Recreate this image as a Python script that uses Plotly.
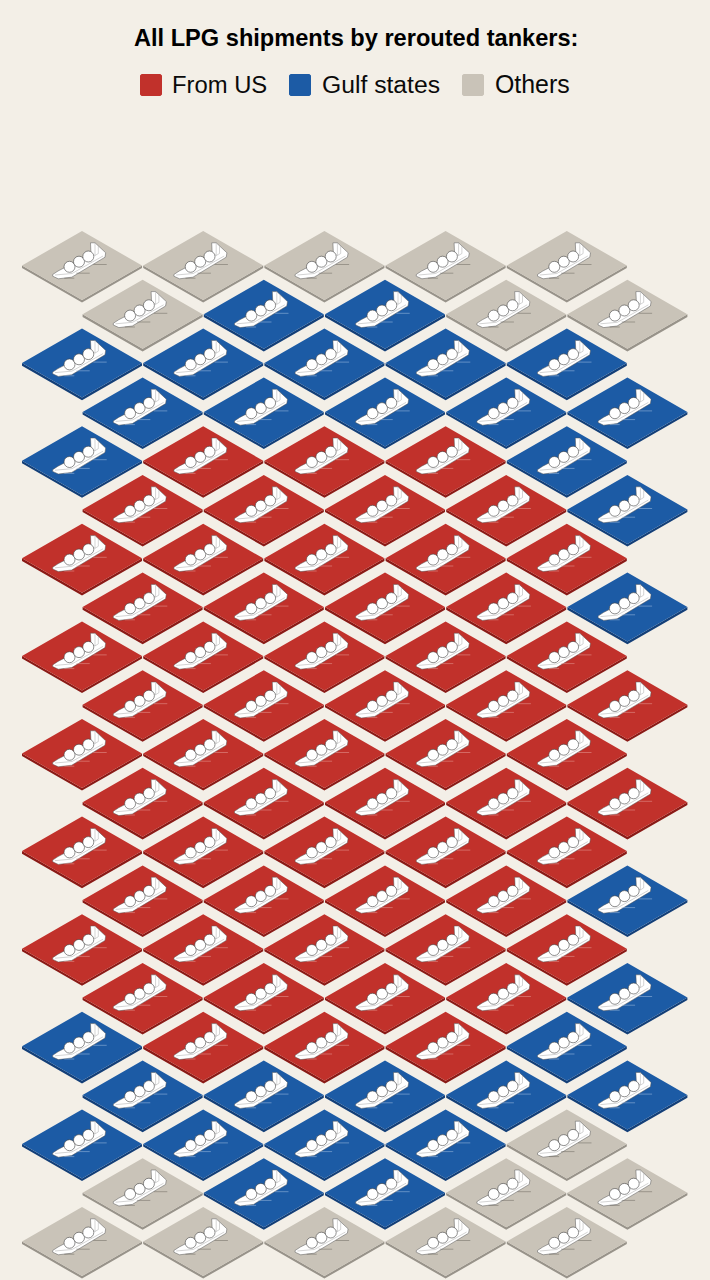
import plotly.graph_objects as go

# ---- data -------------------------------------------------------------
title = "All LPG shipments by rerouted tankers:"
categories = ["From US", "Gulf states", "Others"]
cat_codes = ["U", "G", "O"]
row_tiles = [
    "OOOOO", "OGGOO", "GGGGG", "GGGGG", "GUUUG", "UUUUG", "UUUUU",
    "UUUUG", "UUUUU", "UUUUU", "UUUUU", "UUUUU", "UUUUU", "UUUUG",
    "UUUUU", "UUUUG", "GUUUG", "GGGGG", "GGGGO", "OGGOO", "OOOOO",
]

# ---- styles -----------------------------------------------------------
W, H = 710, 1280
BG = "#f3efe7"
TOP = {"U": "#c1312b", "G": "#1c5ba5", "O": "#c9c3b8"}
SIDE = {"U": "#8a1a16", "G": "#133f78", "O": "#98938a"}
TINY = {"U": "#e9a29c", "G": "#a9c4e4", "O": "#6a665f"}
COL_PX, ROW_PX = 121.2, 48.8
X0_PX, Y0_PX = 82.0, 265.5
HALF_W, HALF_H, DEPTH = 60.0, 34.5, 2.6
FONT = "Liberation Sans"


def sx(px):
    return (px - X0_PX) / COL_PX


def sy(py):
    return (py - Y0_PX) / ROW_PX


# unit outlines, as offsets from a tile centre in pixels
TILE = [(-HALF_W, 0), (0, -HALF_H), (HALF_W, 0), (0, HALF_H)]
SIDE_OUT = [(-HALF_W, 0), (0, HALF_H), (HALF_W, 0), (HALF_W, DEPTH), (0, HALF_H + DEPTH), (-HALF_W, DEPTH)]
HULL = [(-29.3, 9), (-24, 5.5), (9, -11.5), (8.5, -22.7), (13, -22.7), (16.3, -19.3), (23.7, -12.7),
        (23, -8.3), (-10.3, 11.7), (-23.7, 13.3), (-29.3, 10.7)]
DECK = [(-27, 9.5), (-10, 8), (21, -9.5)]
BRIDGE = [(9, -12), (13, -10), (13, -22.7)]
BRIDGE2 = [(13, -10), (16.3, -12), (16.3, -19.3)]
SPHERES = [(-12.5, 1.3), (-3, -3.8), (6.3, -9)]
TINY_MARKS = [[(11.3, -1), (24.7, -1)], [(-5.7, 7.7), (7.7, 7.7)], [(-17.7, 12.7), (-7.7, 12.7)]]
SW, SC = 11.0, 1.6
SWATCH = [(-SW + SC, -SW), (SW - SC, -SW), (SW, -SW + SC), (SW, SW - SC),
          (SW - SC, SW), (-SW + SC, SW), (-SW, SW - SC), (-SW, -SW + SC)]


def outline(cells, pts, close=True):
    xs, ys = [], []
    for cx, cy in cells:
        seq = pts + pts[:1] if close else pts
        for dx, dy in seq:
            xs.append(cx + dx / COL_PX)
            ys.append(cy + dy / ROW_PX)
        xs.append(None)
        ys.append(None)
    return xs, ys


cells = {c: [] for c in cat_codes}
for r, row in enumerate(row_tiles):
    for c, code in enumerate(row):
        cells[code].append((c + (r % 2) * 0.5, r))
all_cells = [p for c in cat_codes for p in cells[c]]

fig = go.Figure()
for code, name in zip(cat_codes, categories):
    xs, ys = outline(cells[code], SIDE_OUT)
    fig.add_trace(go.Scatter(x=xs, y=ys, mode="lines", fill="toself", fillcolor=SIDE[code],
                             line=dict(width=0), hoverinfo="skip", showlegend=False))
    xs, ys = outline(cells[code], TILE)
    fig.add_trace(go.Scatter(x=xs, y=ys, mode="lines", fill="toself", fillcolor=TOP[code],
                             line=dict(width=0), name=name, hoverinfo="name", showlegend=False))

xs, ys = outline(all_cells, HULL)
fig.add_trace(go.Scatter(x=xs, y=ys, mode="lines", fill="toself", fillcolor="#ffffff",
                         line=dict(width=0.5, color="#555555"), hoverinfo="skip", showlegend=False))
for part in (DECK, BRIDGE, BRIDGE2):
    xs, ys = outline(all_cells, part, close=False)
    fig.add_trace(go.Scatter(x=xs, y=ys, mode="lines", line=dict(width=0.5, color="#a8a8a8"),
                             hoverinfo="skip", showlegend=False))
sph_x = [cx + dx / COL_PX for cx, cy in all_cells for dx, dy in SPHERES]
sph_y = [cy + dy / ROW_PX for cx, cy in all_cells for dx, dy in SPHERES]
fig.add_trace(go.Scatter(x=sph_x, y=sph_y, mode="markers",
                         marker=dict(size=11, color="#ffffff", line=dict(width=0.6, color="#444444")),
                         hoverinfo="skip", showlegend=False))
for code in cat_codes:
    xs, ys = [], []
    for seg in TINY_MARKS:
        a, b = outline(cells[code], seg, close=False)
        xs += a
        ys += b
    fig.add_trace(go.Scatter(x=xs, y=ys, mode="lines", line=dict(width=0.5, color=TINY[code]),
                             hoverinfo="skip", showlegend=False))

# legend
SWATCH_PX = [151, 300, 473]
LABEL_PX = [170, 320, 493]
LABEL_SIZE = [23.8, 24.7, 24.9]
LEGEND_Y = 85.0
for px, code in zip(SWATCH_PX, cat_codes):
    xs, ys = outline([(sx(px), sy(LEGEND_Y))], SWATCH)
    fig.add_trace(go.Scatter(x=xs, y=ys, mode="lines", fill="toself", fillcolor=TOP[code],
                             line=dict(width=0), hoverinfo="skip", showlegend=False))
for name, lx, sz in zip(categories, LABEL_PX, LABEL_SIZE):
    fig.add_annotation(x=sx(lx), y=sy(LEGEND_Y - 1), text=name, showarrow=False, xanchor="left", yanchor="middle",
                       font=dict(family=FONT, size=sz, color="#0a0a0a"))
fig.add_annotation(x=sx(355.5), y=sy(38), text=f"<b>{title}</b>", showarrow=False, xanchor="center",
                   yanchor="middle", font=dict(family=FONT, size=23.6, color="#000000"))

fig.update_layout(
    width=W, height=H, margin=dict(l=0, r=0, t=0, b=0), autosize=False,
    paper_bgcolor=BG, plot_bgcolor=BG, showlegend=False,
    xaxis=dict(range=[sx(0), sx(W)], visible=False, fixedrange=True),
    yaxis=dict(range=[sy(H), sy(0)], visible=False, fixedrange=True),
)
fig.write_html("out.html", post_script="document.body.style.margin='0';document.body.style.background='%s';" % BG,
               config={"displayModeBar": False})
